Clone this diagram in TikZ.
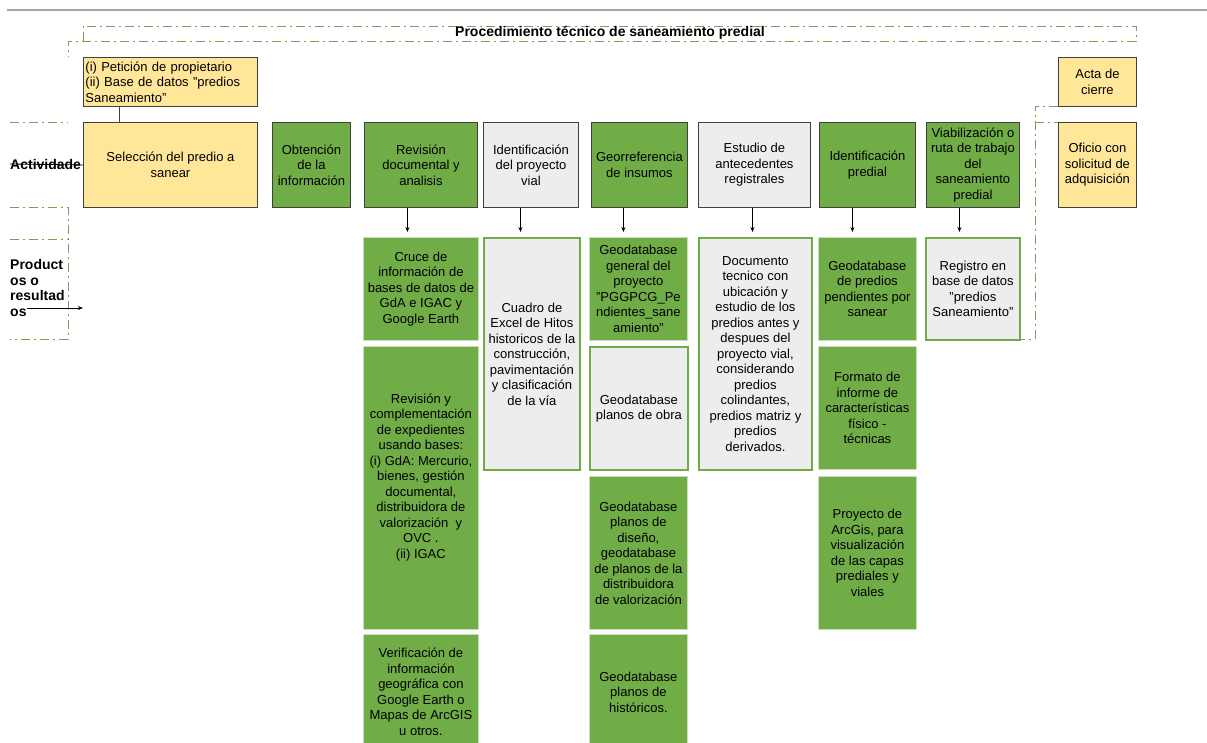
\documentclass[tikz,border=0pt]{standalone}
\usepackage{fontspec}
\setmainfont{Liberation Sans}
\usepackage{tikz}
\usetikzlibrary{calc,arrows.meta}
\definecolor{yel}{HTML}{FFE699}
\definecolor{grn}{HTML}{70AD47}
\definecolor{lgray}{HTML}{EDEDED}
\definecolor{dashgrn}{HTML}{76A156}
\definecolor{boxline}{HTML}{404040}
\definecolor{paleline}{HTML}{C9DFB9}
\tikzset{
  txt/.style={font=\fontsize{13}{15.5}\selectfont, align=center, inner sep=1pt},
  act/.style={txt, draw=boxline, line width=0.9pt, anchor=north west, minimum height=85pt},
  actg/.style={act, fill=grn},
  acty/.style={act, fill=yel},
  actw/.style={act, fill=lgray},
  prodg/.style={txt, fill=grn, draw=paleline, line width=0.8pt, anchor=north west},
  prodw/.style={txt, fill=lgray, draw=grn, line width=1.8pt, anchor=north west},
  dd/.style={dashgrn, line width=0.9pt, dash pattern=on 9pt off 4pt on 2pt off 4pt},
  lane/.style={font=\fontsize{14}{15.7}\selectfont\bfseries, align=left, inner sep=0pt},
  arr/.style={-{Stealth[length=5pt,width=4pt]}, line width=0.8pt}
}
\begin{document}
\begin{tikzpicture}[x=1pt,y=-1pt]
\useasboundingbox (0,0) rectangle (1207,743);
\draw[gray!70, line width=1.2pt] (7,10) -- (1207,10);

% marcos punto-raya
\draw[dd] (83,41) -- (83,26) -- (1136,26) -- (1136,41) -- (68,41) -- (68,57);
\draw[dd] (10,122) -- (68,122);
\draw[dd] (10,207) -- (68,207) -- (68,339) -- (10,339);
\draw[dd] (10,239) -- (68,239);
\draw[dd] (1058,106) -- (1035,106) -- (1035,339) -- (1019,339);
\draw[dd] (1035,122) -- (1058,122);

\node[txt, font=\fontsize{14}{16}\selectfont\bfseries] (title) at (610,33) {Procedimiento técnico de saneamiento predial};

% carriles
\node[lane, anchor=west] (actlbl) at (10,164) {Actividade};
\node[lane, anchor=north west] (prodlbl) at (10,259) {Product\\os o\\resultad\\os};
\coordinate (pin) at (27,308);
\coordinate (pout) at (83,308);
\draw[arr] (pin) -- (pout);

% actividades
\node[txt, fill=yel, draw=boxline, line width=0.9pt, anchor=north west, align=left,
      text width=170pt, minimum height=49pt, inner sep=2pt] (peticion) at (83,57)
  {(i) Petición de propietario\\(ii) Base de datos "predios\\Saneamiento"};
\node[acty, minimum width=78pt, minimum height=49pt] (acta) at (1058,57) {Acta de\\cierre};

\node[acty, minimum width=174pt] (sel) at (83,122) {Selección del predio a\\sanear};
\node[actg, minimum width=78pt] (obt) at (272,122) {Obtención\\de la\\información};
\node[actg, minimum width=113pt] (rev) at (364,122) {Revisión\\documental y\\analisis};
\node[actw, minimum width=95pt] (idvial) at (483,122) {Identificación\\del proyecto\\vial};
\node[actg, minimum width=96pt] (georef) at (591,122) {Georreferencia\\de insumos};
\node[actw, minimum width=112pt] (estudio) at (698,122) {Estudio de\\antecedentes\\registrales};
\node[actg, minimum width=96pt] (idpred) at (819,122) {Identificación\\predial};
\node[actg, minimum width=93pt] (viab) at (926,122) {Viabilización o\\ruta de trabajo\\del\\saneamiento\\predial};
\node[acty, minimum width=78pt] (oficio) at (1058,122) {Oficio con\\solicitud de\\adquisición};

\draw[line width=0.8pt] (actlbl.west) -- (sel.west);
\draw[boxline, line width=0.9pt] ($(peticion.south west)+(36,0)$) -- ($(sel.north west)+(36,0)$);

% productos
\node[prodg, minimum width=115pt, minimum height=103pt] (cruce) at (363,237)
  {Cruce de\\información de\\bases de datos de\\GdA e IGAC y\\Google Earth};
\node[prodg, minimum width=115pt, minimum height=283pt] (revcomp) at (363,346)
  {Revisión y\\complementación\\de expedientes\\usando bases:\\(i) GdA: Mercurio,\\bienes, gestión\\documental,\\distribuidora de\\valorización\ \ y\\OVC .\\(ii) IGAC\\[8pt]};
\node[prodg, minimum width=115pt, minimum height=115pt] (verif) at (363,634)
  {Verificación de\\información\\geográfica con\\Google Earth o\\Mapas de ArcGIS\\u otros.};

\node[prodw, minimum width=96pt, minimum height=232pt] (cuadro) at (483,237)
  {Cuadro de\\Excel de Hitos\\historicos de la\\construcción,\\pavimentación\\y clasificación\\de la vía};

\node[prodg, minimum width=98pt, minimum height=103pt] (geogen) at (589,237)
  {Geodatabase\\general del\\proyecto\\"PGGPCG\_Pe\\ndientes\_sane\\amiento"};
\node[prodw, minimum width=98pt, minimum height=123pt] (geoobra) at (589,346)
  {Geodatabase\\planos de obra};
\node[prodg, minimum width=98pt, minimum height=153pt] (geodis) at (589,476)
  {Geodatabase\\planos de\\diseño,\\geodatabase\\de planos de la\\distribuidora\\de valorización};
\node[prodg, minimum width=98pt, minimum height=115pt] (geohist) at (589,634)
  {Geodatabase\\planos de\\históricos.};

\node[prodw, minimum width=113pt, minimum height=232pt] (doctec) at (698,237)
  {Documento\\tecnico con\\ubicación y\\estudio de los\\predios antes y\\despues del\\proyecto vial,\\considerando\\predios\\colindantes,\\predios matriz y\\predios\\derivados.};

\node[prodg, minimum width=98pt, minimum height=103pt] (geopred) at (818,237)
  {Geodatabase\\de predios\\pendientes por\\sanear};
\node[prodg, minimum width=98pt, minimum height=123pt] (formato) at (818,346)
  {Formato de\\informe de\\características\\físico -\\técnicas};
\node[prodg, minimum width=98pt, minimum height=153pt] (arcgis) at (818,476)
  {Proyecto de\\ArcGis, para\\visualización\\de las capas\\prediales y\\viales};

\node[prodw, minimum width=94pt, minimum height=102pt] (registro) at (925,237)
  {Registro en\\base de datos\\"predios\\Saneamiento"};

% flechas actividad -> producto
\draw[arr] ($(rev.south)+(-13.5,0)$) -- ($(rev.south |- cruce.north)+(-13.5,-5)$);
\draw[arr] ($(idvial.south)+(-10.5,0)$) -- ($(idvial.south |- cuadro.north)+(-10.5,-5)$);
\draw[arr] ($(georef.south)+(-16,0)$) -- ($(georef.south |- geogen.north)+(-16,-5)$);
\draw[arr] ($(estudio.south)+(-2,0)$) -- ($(estudio.south |- doctec.north)+(-2,-5)$);
\draw[arr] ($(idpred.south)+(-15,0)$) -- ($(idpred.south |- geopred.north)+(-15,-5)$);
\draw[arr] ($(viab.south)+(-13.5,0)$) -- ($(viab.south |- registro.north)+(-13.5,-5)$);
\end{tikzpicture}
\end{document}
